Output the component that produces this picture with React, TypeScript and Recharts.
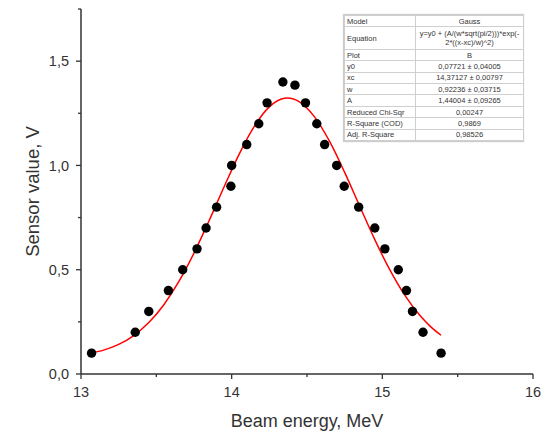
import React from 'react';
import { ComposedChart, XAxis, YAxis, Scatter, Line } from 'recharts';

const energyValues = [13.07, 13.36, 13.45, 13.58, 13.675, 13.77, 13.83, 13.9, 13.995, 14.0, 14.1, 14.18, 14.235, 14.34, 14.42, 14.49, 14.565, 14.617, 14.697, 14.747, 14.843, 14.95, 15.017, 15.106, 15.16, 15.2, 15.27, 15.39];
const sensorValues = [0.1, 0.2, 0.3, 0.4, 0.5, 0.6, 0.7, 0.8, 0.9, 1.0, 1.1, 1.2, 1.3, 1.4, 1.385, 1.3, 1.2, 1.1, 1.0, 0.9, 0.8, 0.7, 0.6, 0.5, 0.4, 0.3, 0.2, 0.1];

const fitEnergy = [13.07, 13.15, 13.25, 13.35, 13.45, 13.55, 13.65, 13.75, 13.85, 13.95, 14.05, 14.15, 14.25, 14.35, 14.371, 14.45, 14.55, 14.65, 14.75, 14.85, 14.95, 15.05, 15.15, 15.25, 15.32, 15.39];
const fitValues = [0.1005, 0.1146, 0.142, 0.1845, 0.2466, 0.3323, 0.4438, 0.5798, 0.7348, 0.8979, 1.0545, 1.1874, 1.2806, 1.3216, 1.3229, 1.3049, 1.2328, 1.115, 0.9664, 0.8041, 0.6441, 0.499, 0.3767, 0.28, 0.2273, 0.1857];

const xTicks = [13, 13.5, 14, 14.5, 15, 15.5, 16];
const yTicks = [0, 0.25, 0.5, 0.75, 1.0, 1.25, 1.5, 1.75];
const yMajor = [0, 0.5, 1.0, 1.5];

const tableRows: [string, string[]][] = [
  ['Model', ['Gauss']],
  ['Equation', ['y=y0 + (A/(w*sqrt(pi/2)))*exp(-', '2*((x-xc)/w)^2)']],
  ['Plot', ['B']],
  ['y0', ['0,07721 ± 0,04005']],
  ['xc', ['14,37127 ± 0,00797']],
  ['w', ['0,92236 ± 0,03715']],
  ['A', ['1,44004 ± 0,09265']],
  ['Reduced Chi-Sqr', ['0,00247']],
  ['R-Square (COD)', ['0,9869']],
  ['Adj. R-Square', ['0,98526']],
];

const points = energyValues.map((x, i) => ({ x, y: sensorValues[i] }));
const fit = fitEnergy.map((x, i) => ({ x, y: fitValues[i] }));

const FONT = '"Liberation Sans", Arial, sans-serif';
const AXIS = '#333';

const XTick = (props: any) => {
  const { x, y, payload } = props;
  const major = Number.isInteger(payload.value);
  return (
    <g>
      <line x1={x} y1={y} x2={x} y2={y + (major ? 5 : 3)} stroke={AXIS} strokeWidth={1.3} />
      {major && (
        <text x={x} y={y + 23} textAnchor="middle" fontSize={14.5} fill="#333" fontFamily={FONT}>
          {payload.value}
        </text>
      )}
    </g>
  );
};

const YTick = (props: any) => {
  const { x, y, payload } = props;
  const major = yMajor.includes(payload.value);
  return (
    <g>
      <line x1={x} y1={y} x2={x - (major ? 5 : 3)} y2={y} stroke={AXIS} strokeWidth={1.3} />
      {major && (
        <text x={x - 12} y={y} dy="0.36em" textAnchor="end" fontSize={14.5} fill="#333" fontFamily={FONT}>
          {payload.value.toFixed(1).replace('.', ',')}
        </text>
      )}
    </g>
  );
};

const Dot = (p: any) => <circle cx={p.cx} cy={p.cy} r={4.7} fill="#000" />;

export default function App() {
  return (
    <div style={{ position: 'absolute', left: 0, top: 0, width: 552, height: 433, background: '#fff' }}>
      <ComposedChart width={552} height={433} margin={{ top: 9, right: 19, bottom: 0, left: 0 }}>
        <XAxis
          type="number"
          dataKey="x"
          domain={[13, 16]}
          ticks={xTicks}
          tick={<XTick />}
          tickSize={0}
          tickMargin={0}
          height={59}
          stroke={AXIS}
          strokeWidth={1.5}
          allowDataOverflow
          label={{ value: 'Beam energy, MeV', position: 'insideBottom', offset: 6, fontSize: 18, fill: '#333', fontFamily: FONT }}
        />
        <YAxis
          type="number"
          dataKey="y"
          domain={[0, 1.75]}
          ticks={yTicks}
          tick={<YTick />}
          tickSize={0}
          tickMargin={0}
          width={81}
          stroke={AXIS}
          strokeWidth={1.5}
          allowDataOverflow
          label={{ value: 'Sensor value, V', angle: -90, position: 'insideLeft', offset: 0, dx: 32, fontSize: 18.5, fill: '#333', fontFamily: FONT, style: { textAnchor: 'middle' } }}
        />
        <Line
          data={fit}
          dataKey="y"
          type="monotone"
          stroke="#ff0000"
          strokeWidth={1.5}
          dot={false}
          activeDot={false}
          isAnimationActive={false}
        />
        <Scatter data={points} dataKey="y" shape={<Dot />} isAnimationActive={false} />
      </ComposedChart>
      <div
        style={{
          position: 'absolute',
          left: 344,
          top: 15,
          width: 179,
          background: '#fff',
          fontFamily: FONT,
          fontSize: 7.5,
          color: '#333',
          boxShadow: '0 0 1px 1px #ccc',
        }}
      >
        <table style={{ borderCollapse: 'collapse', width: 179, tableLayout: 'fixed' }}>
          <colgroup>
            <col style={{ width: 71 }} />
            <col style={{ width: 108 }} />
          </colgroup>
          <tbody>
            {tableRows.map(([k, v]) => (
              <tr key={k} style={{ height: v.length > 1 ? 22.5 : 11.4 }}>
                <td style={{ border: '1px solid #cfcfcf', padding: '0 2px', lineHeight: '9px', whiteSpace: 'nowrap', overflow: 'hidden' }}>{k}</td>
                <td style={{ border: '1px solid #cfcfcf', padding: '0 1px', lineHeight: '9px', textAlign: 'center', whiteSpace: 'nowrap' }}>
                  {v.map((s, i) => (
                    <div key={i}>{s}</div>
                  ))}
                </td>
              </tr>
            ))}
          </tbody>
        </table>
      </div>
    </div>
  );
}
